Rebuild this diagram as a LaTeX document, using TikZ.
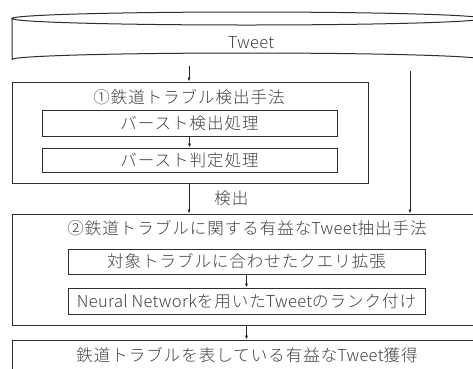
\documentclass[tikz,border=0pt]{standalone}
\usepackage{fontspec}
\setmainfont{Noto Sans CJK JP}
\newfontfamily\jpfont[LetterSpace=6]{Noto Sans CJK JP Light}
\newfontfamily\latfont[LetterSpace=2]{Noto Sans CJK JP Light}
\newcommand{\TW}{{\latfont Tweet}}
\usetikzlibrary{arrows.meta}
\begin{document}
\begin{tikzpicture}[x=1pt,y=-1pt,
  line width=0.9pt,
  every node/.style={text=black!75, font=\fontsize{16.5}{19}\selectfont\jpfont, inner sep=0pt},
  frame/.style={draw=black!82, line width=1pt},
  arr/.style={draw=black!85, line width=0.9pt, -{Latex[length=4pt,width=3.2pt]}},
  lbl/.style={}]
\useasboundingbox (0,0) rectangle (473,368);
\clip (0,0) rectangle (473,368);
% cylinder
\draw[frame, fill=white] (12,18.5) -- (12,59.5) arc[start angle=180, end angle=360, x radius=235, y radius=6.5] -- (482,18.5);
\draw[frame] (247,18.5) ellipse[x radius=235, y radius=6.5];
\node[lbl] (tw) at (251,43) {\TW};
\coordinate (cylL) at (189,66);
\coordinate (cylR) at (410,71);
% box 1
\node[frame, minimum width=356pt, minimum height=101pt] (b1) at (190,132.5) {};
\node[lbl] (t1) at (189,97) {①鉄道トラブル検出手法};
\node[frame, minimum width=295pt, minimum height=26pt] (a) at (189.5,123) {バースト検出処理};
\node[frame, minimum width=295pt, minimum height=24pt] (b) at (189.5,160) {バースト判定処理};
% box 2
\node[frame, minimum width=478pt, minimum height=111pt] (b2) at (251,269.5) {};
\node[lbl] (t2) at (247,228) {②鉄道トラブルに関する有益な\TW 抽出手法};
\node[frame, minimum width=357pt, minimum height=25pt] (c) at (246.5,261.5) {対象トラブルに合わせたクエリ拡張};
\node[frame, minimum width=357pt, minimum height=26pt] (d) at (246.5,301) {{\latfont Neural Network}を用いた\TW のランク付け};
% box 3
\node[frame, minimum width=478pt, minimum height=40pt] (b3) at (251,360) {};
\node[lbl] (t3) at (247,355) {鉄道トラブルを表している有益な\TW 獲得};
% arrows
\draw[arr] (cylL) -- (b1.north -| cylL);
\draw[arr] (cylR) -- (b2.north -| cylR);
\draw[arr] (a.south) -- (b.north);
\draw[arr] (b1.south -| cylL) -- node[pos=0.5, right=25pt, lbl] (det) {検出} (b2.north -| cylL);
\draw[arr] (c.south) -- (d.north);
\draw[arr] (b2.south -| c.south) -- (b3.north -| c.south);
\end{tikzpicture}
\end{document}
